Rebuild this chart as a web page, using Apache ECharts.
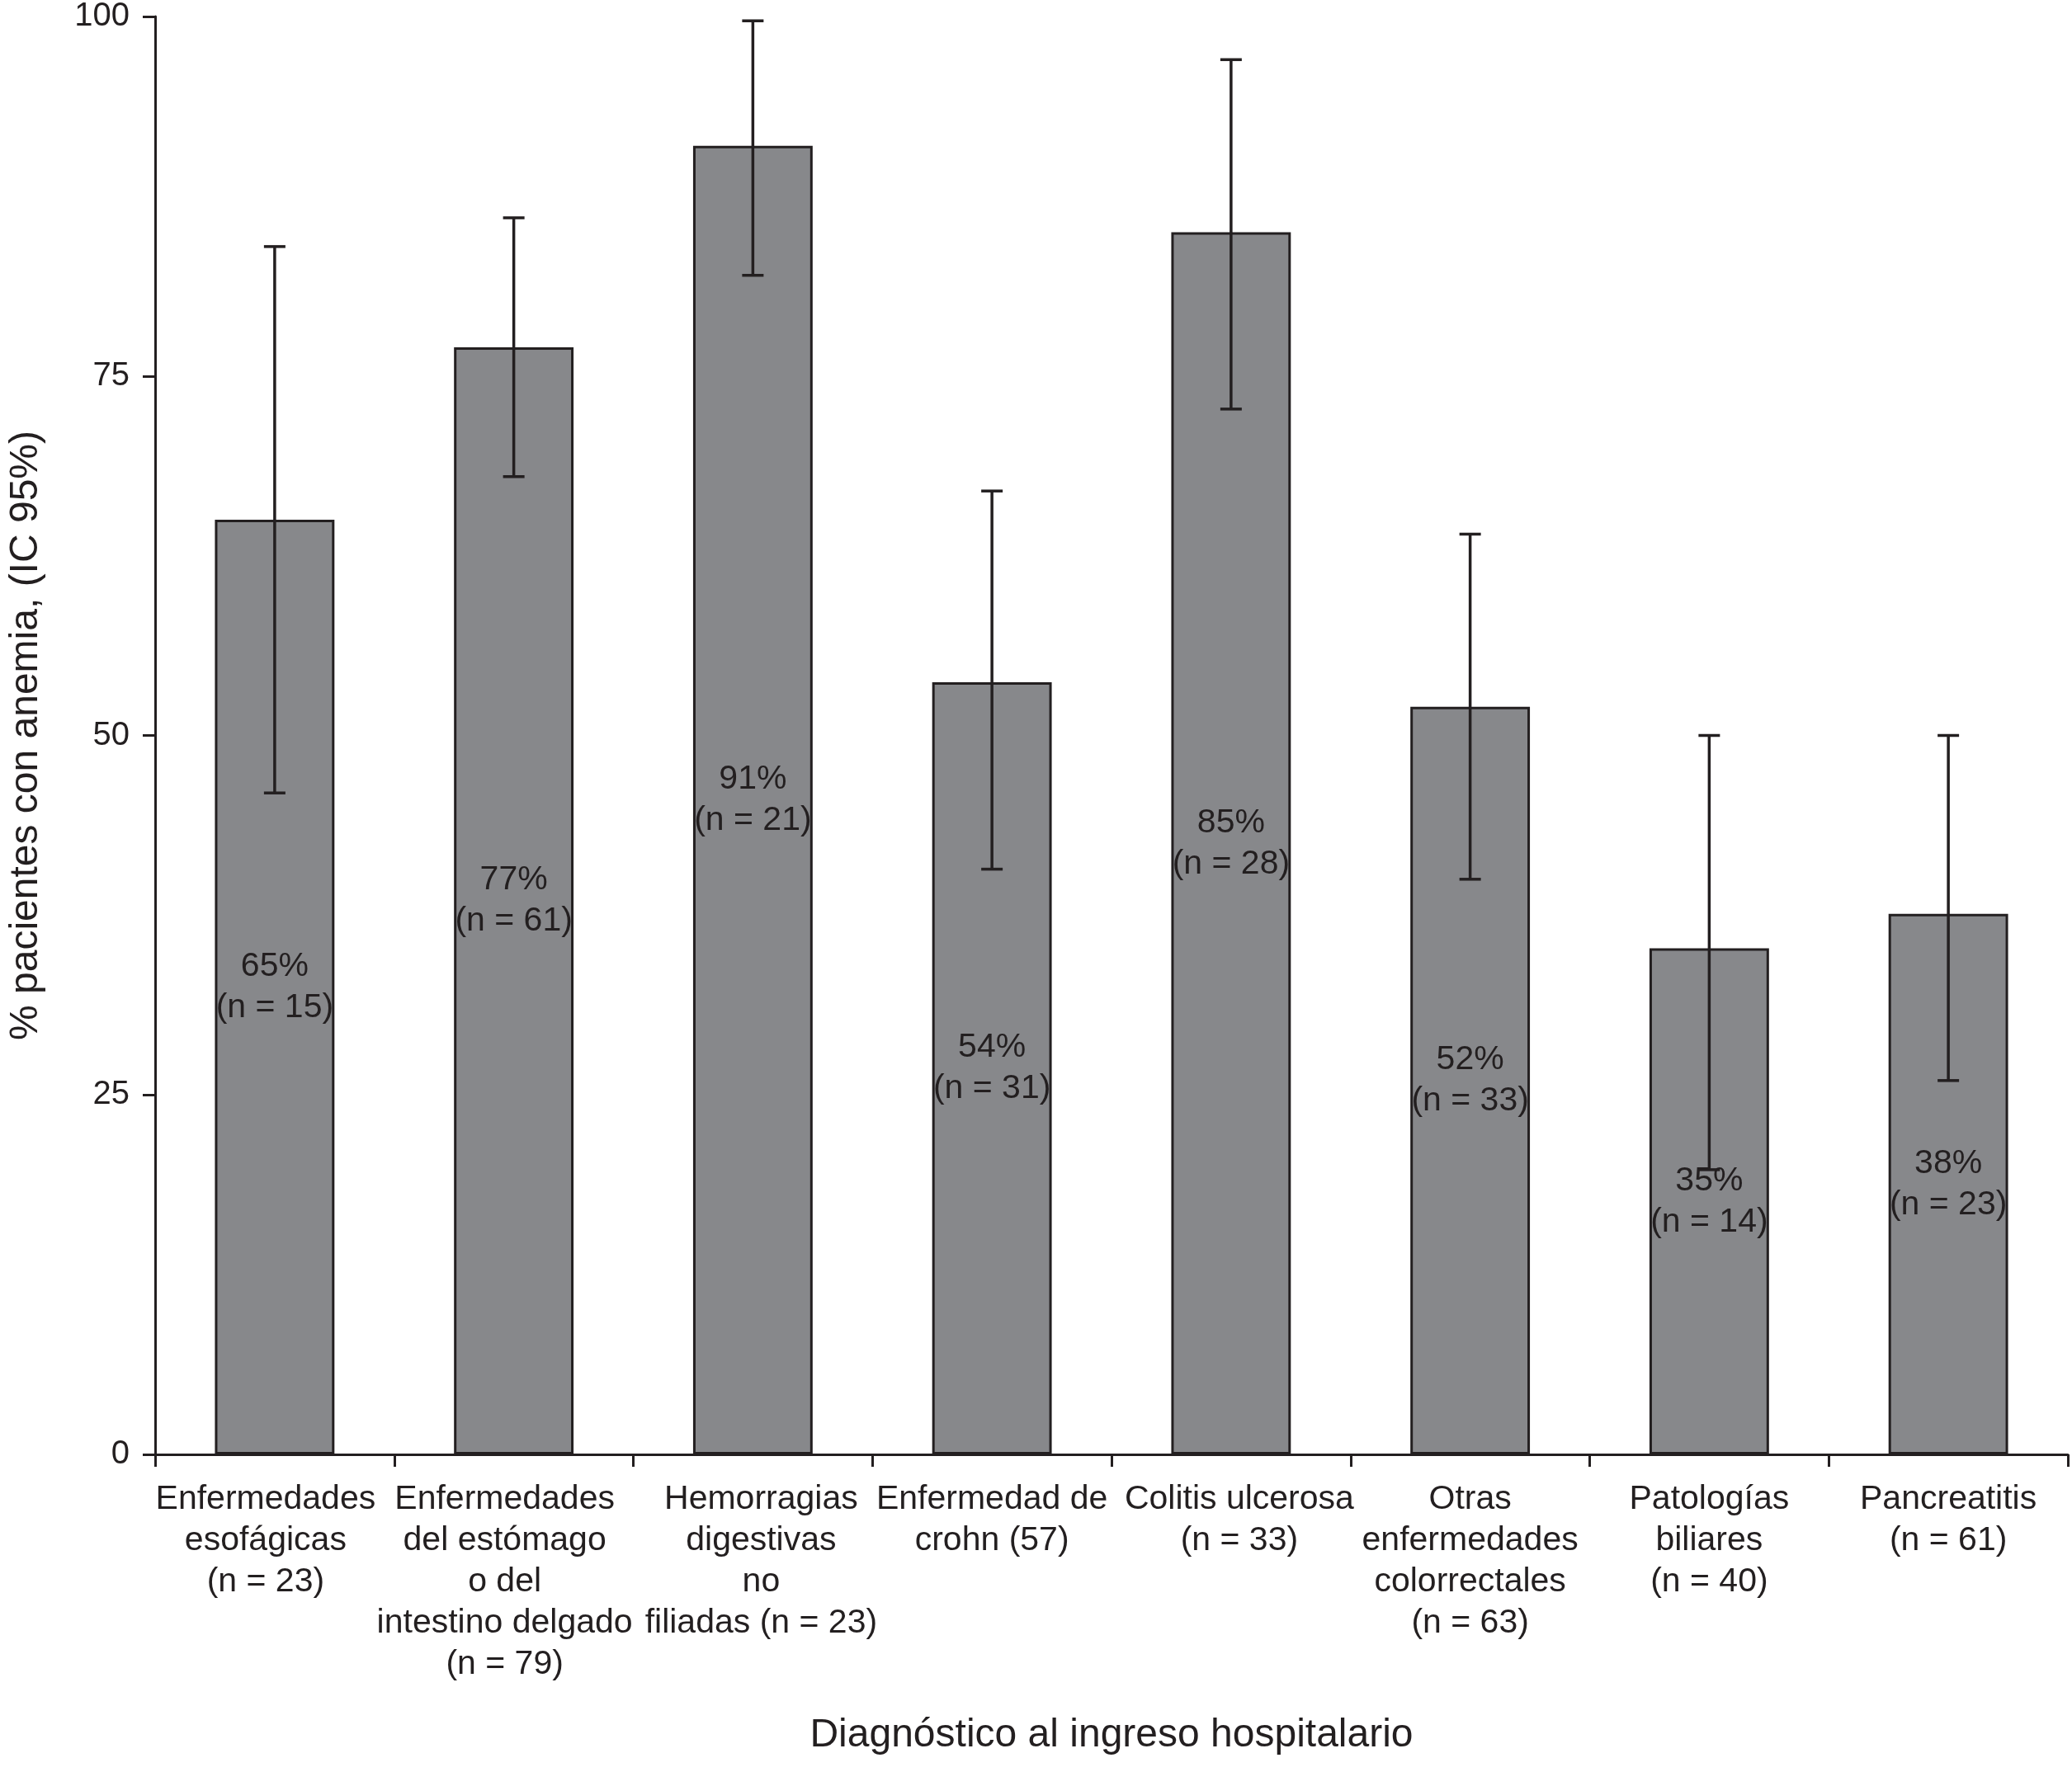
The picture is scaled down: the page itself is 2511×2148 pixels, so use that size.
<!DOCTYPE html>
<html>
<head>
<meta charset="utf-8">
<script src="https://cdn.jsdelivr.net/npm/echarts@6/dist/echarts.min.js"></script>
<style>
html,body{margin:0;padding:0;background:#fff;}
#chart{width:2511px;height:2148px;}
</style>
</head>
<body>
<div id="chart"></div>
<script>
var categories = [
  'Enfermedades\nesofágicas\n(n = 23)',
  'Enfermedades\ndel estómago\no del\nintestino delgado\n(n = 79)',
  'Hemorragias\ndigestivas\nno\nfiliadas (n = 23)',
  'Enfermedad de\ncrohn (57)',
  'Colitis ulcerosa\n(n = 33)',
  'Otras\nenfermedades\ncolorrectales\n(n = 63)',
  'Patologías\nbiliares\n(n = 40)',
  'Pancreatitis\n(n = 61)'
];
var values = [65, 77, 91, 53.7, 85, 52, 35.2, 37.6];
var lower = [46, 68, 82, 40.7, 72.7, 40, 19.8, 26];
var upper = [84, 86, 99.7, 67, 97, 64, 50, 50];
var pctLabels = ['65%', '77%', '91%', '54%', '85%', '52%', '35%', '38%'];
var nLabels = ['(n = 15)', '(n = 61)', '(n = 21)', '(n = 31)', '(n = 28)', '(n = 33)', '(n = 14)', '(n = 23)'];
var yTicks = [0, 25, 50, 75, 100];

var FONT = "'Liberation Sans', Arial, Helvetica, sans-serif";
var INK = '#231f20';

var errData = values.map(function (v, i) { return [i, lower[i], upper[i]]; });

function labStyle(pad) {
  return {fontFamily: FONT, fontSize: 41, lineHeight: 50, color: INK, padding: pad};
}

var chart = echarts.init(document.getElementById('chart'), null, {renderer: 'canvas'});
chart.setOption({
  backgroundColor: '#ffffff',
  animation: false,
  textStyle: {fontFamily: FONT, color: INK},
  grid: {left: 180, right: 5, top: 20, bottom: 385, containLabel: false},
  xAxis: {
    type: 'category',
    data: categories,
    boundaryGap: true,
    name: 'Diagnóstico al ingreso hospitalario',
    nameLocation: 'middle',
    nameGap: 317,
    nameTextStyle: {fontFamily: FONT, fontSize: 48, color: INK},
    axisLine: {show: true, lineStyle: {color: INK, width: 3}},
    axisTick: {show: true, length: 15, lineStyle: {color: INK, width: 3}},
    axisLabel: {
      interval: 0, margin: 30, fontFamily: FONT, fontSize: 41, lineHeight: 50,
      color: INK, align: 'center', hideOverlap: false,
      formatter: function (value, index) {
        var key = (index === 0 || index === 1) ? 'l' : ((index === 2 || index === 4) ? 'r' : 'c');
        return value.split('\n').map(function (s) { return '{' + key + '|' + s + '}'; }).join('\n');
      },
      rich: {
        l: labStyle([0, 22, 0, 0]),
        r: labStyle([0, 0, 0, 20]),
        c: labStyle([0, 0, 0, 0])
      }
    },
    splitLine: {show: false}
  },
  yAxis: {
    type: 'value',
    min: yTicks[0],
    max: yTicks[yTicks.length - 1],
    interval: 25,
    name: '% pacientes con anemia, (IC 95%)',
    nameLocation: 'middle',
    nameGap: 132,
    nameRotate: 90,
    nameTextStyle: {fontFamily: FONT, fontSize: 48, color: INK},
    axisLine: {show: true, lineStyle: {color: INK, width: 3}},
    axisTick: {show: true, length: 15, lineStyle: {color: INK, width: 3}},
    axisLabel: {margin: 31, fontFamily: FONT, fontSize: 40, color: INK},
    splitLine: {show: false}
  },
  series: [
    {
      type: 'bar',
      data: values,
      barWidth: '50%',
      itemStyle: {color: '#87888b', borderColor: INK, borderWidth: 3},
      label: {
        show: true,
        position: 'inside',
        fontFamily: FONT,
        fontSize: 41,
        lineHeight: 50,
        color: INK,
        formatter: function (p) { return pctLabels[p.dataIndex] + '\n' + nLabels[p.dataIndex]; }
      },
      z: 2
    },
    {
      type: 'custom',
      data: errData,
      z: 3,
      renderItem: function (params, api) {
        var x = api.value(0);
        var lo = api.coord([x, api.value(1)]);
        var hi = api.coord([x, api.value(2)]);
        var hw = 13;
        var st = {stroke: INK, lineWidth: 3.5, fill: null};
        return {
          type: 'group',
          children: [
            {type: 'line', shape: {x1: hi[0], y1: hi[1], x2: lo[0], y2: lo[1]}, style: st},
            {type: 'line', shape: {x1: hi[0] - hw, y1: hi[1], x2: hi[0] + hw, y2: hi[1]}, style: st},
            {type: 'line', shape: {x1: lo[0] - hw, y1: lo[1], x2: lo[0] + hw, y2: lo[1]}, style: st}
          ]
        };
      }
    }
  ]
});
</script>
</body>
</html>
